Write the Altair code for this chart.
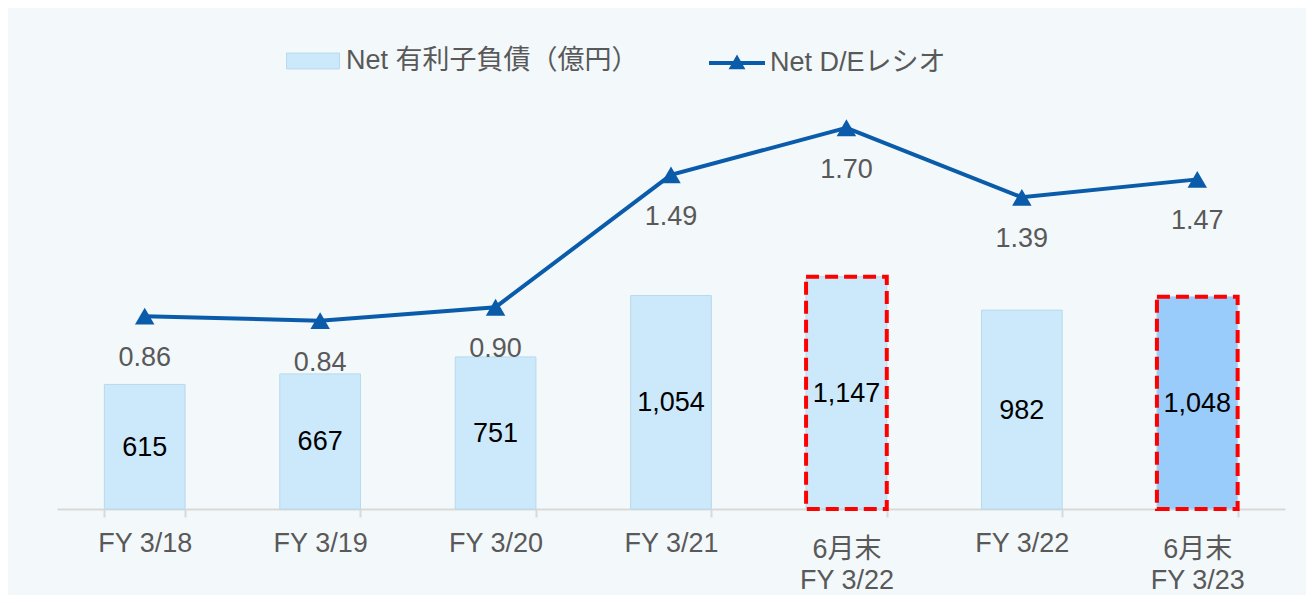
import altair as alt
import pandas as pd

categories = ["FY 3/18", "FY 3/19", "FY 3/20", "FY 3/21", "6月末|FY 3/22", "FY 3/22", "6月末|FY 3/23"]
net_debt = [615, 667, 751, 1054, 1147, 982, 1048]
de_ratio = [0.86, 0.84, 0.90, 1.49, 1.70, 1.39, 1.47]
boxed = [False, False, False, False, True, False, True]
dark_bar = [False, False, False, False, False, False, True]

BAR_NAME = "Net 有利子負債（億円）"
LINE_NAME = "Net D/Eレシオ"

df = pd.DataFrame({
    "cat": categories,
    "debt": net_debt,
    "half": [v / 2 for v in net_debt],
    "de": de_ratio,
    "boxed": boxed,
    "kind": [("hl" if d else BAR_NAME) for d in dark_bar],
    "s2": [LINE_NAME] * len(categories),
})

FONT = "Liberation Sans, Arial, Noto Sans CJK JP"
GREY = "#595959"
LIGHT = "#cce9fb"
DARK = "#99cbfb"
BLUE = "#0a5cab"

x = alt.X(
    "cat:N", sort=categories, title=None,
    scale=alt.Scale(paddingInner=0.54, paddingOuter=0.27),
    axis=alt.Axis(
        labelAngle=0, labelFontSize=27, labelColor=GREY, labelFont=FONT,
        labelExpr="isString(datum.value) ? split(datum.value, '|') : ''",
        labelLineHeight=31,
        domainColor="#d9d9d9", domainWidth=2, tickColor="#d9d9d9", tickSize=8,
        tickWidth=2, tickBand="extent", grid=False,
        labelPadding={
            "condition": {
                "test": "isString(datum.value) && indexof(datum.value, '|') >= 0",
                "value": 19,
            },
            "value": 13,
        },
    ),
)

ybar = alt.Y("debt:Q", scale=alt.Scale(domain=[0, 2449], nice=False), axis=None)

bars = alt.Chart(df).mark_bar(stroke="#b9d9ec", strokeWidth=1).encode(
    x=x,
    y=ybar,
    fill=alt.Fill(
        "kind:N",
        scale=alt.Scale(domain=[BAR_NAME, "hl"], range=[LIGHT, DARK]),
        legend=alt.Legend(
            orient="none", legendX=229, legendY=21, title=None, values=[BAR_NAME],
            symbolType="M-1,-0.3H1V0.3H-1Z", symbolSize=2809,
            symbolStrokeColor="#b9d9ec", symbolStrokeWidth=1,
            labelFontSize=27, labelColor=GREY, labelFont=FONT, labelOffset=6,
            labelLimit=600, padding=0,
        ),
    ),
)

boxes = alt.Chart(df).transform_filter("datum.boxed").mark_bar(
    fillOpacity=0, stroke="#ff0000", strokeWidth=4, strokeDash=[13, 6]
).encode(x=x, y=ybar)

bar_labels = alt.Chart(df).mark_text(fontSize=27, font=FONT, color="#000000", dy=1).encode(
    x=x,
    y=alt.Y("half:Q", scale=alt.Scale(domain=[0, 2449], nice=False), axis=None),
    text=alt.Text("debt:Q", format=","),
)

yline = alt.Y("de:Q", scale=alt.Scale(domain=[0, 2.212], nice=False), axis=None)

line = alt.Chart(df).mark_line(color=BLUE, strokeWidth=4).encode(x=x, y=yline)

points = alt.Chart(df).mark_point(shape="triangle-up", filled=True, size=380, opacity=1).encode(
    x=x,
    y=yline,
    color=alt.Color(
        "s2:N",
        scale=alt.Scale(domain=[LINE_NAME], range=[BLUE]),
        legend=alt.Legend(
            orient="none", legendX=651, legendY=21, title=None,
            symbolType="M-1,-0.07H1V0.07H-1Z M-0.3,0.22L0,-0.3L0.3,0.22Z",
            symbolSize=3136, symbolOpacity=1,
            labelFontSize=27, labelColor=GREY, labelFont=FONT, labelOffset=4,
            labelLimit=600, padding=0,
        ),
    ),
)

line_labels = alt.Chart(df).mark_text(fontSize=27, font=FONT, color=GREY, dy=42).encode(
    x=x, y=yline, text=alt.Text("de:Q", format=".2f"),
)

chart = alt.layer(
    alt.layer(bars, boxes, bar_labels),
    alt.layer(line, points, line_labels),
).resolve_scale(y="independent").properties(
    width=1228, height=496,
    padding={"left": 49, "top": 5, "right": 21, "bottom": 86},
    autosize=alt.AutoSizeParams(type="none"),
    background="#f3f8fb",
).configure_view(stroke=None)

chart.save("out.html", embed_options={"renderer": "svg", "actions": False})
